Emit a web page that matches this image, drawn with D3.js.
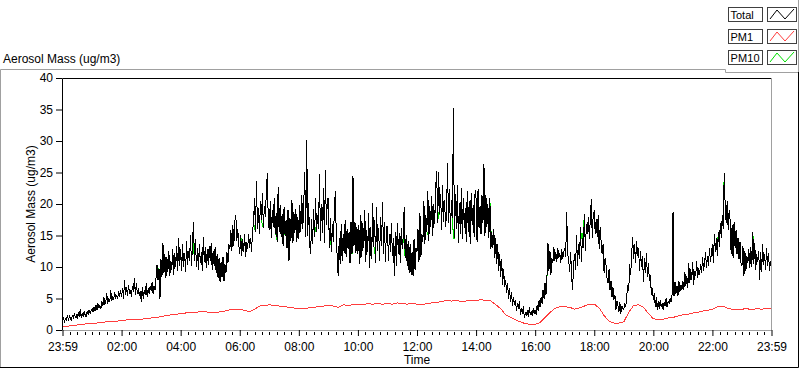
<!DOCTYPE html>
<html>
<head>
<meta charset="utf-8">
<script src="https://cdn.jsdelivr.net/npm/d3@7"></script>
<style>
  html, body { margin: 0; padding: 0; background: #fff; }
  svg { display: block; font-family: "Liberation Sans", Arial, sans-serif; }
</style>
</head>
<body>
<div id="chart"></div>
<script>
// x tick labels, one every 2 hours from 23:59 to 23:59
const tickLabels = ["23:59", "02:00", "04:00", "06:00", "08:00", "10:00", "12:00",
  "14:00", "16:00", "18:00", "20:00", "22:00", "23:59"];
const yTicks = [0, 5, 10, 15, 20, 25, 30, 35, 40];

// Total mass, one sample every 2 min (one row = one hour)
const totalStep = 2;
const total = [
  1.4, 2.0, 1.2, 1.8, 1.6, 2.4, 1.5, 2.2, 1.9, 1.4, 2.4, 1.8, 2.6, 2.0, 2.3, 1.7, 2.8, 2.1, 3.3, 2.0, 2.6, 2.2, 2.9, 2.4, 2.1, 3.0, 2.5, 3.2, 2.6, 3.0,
  3.4, 2.8, 3.6, 3.0, 3.9, 3.2, 4.2, 3.5, 3.9, 3.3, 4.6, 3.8, 5.2, 4.0, 4.6, 5.8, 4.2, 5.0, 4.4, 6.3, 4.6, 5.4, 4.8, 6.0, 5.0, 5.6, 4.9, 6.2, 5.2, 6.4,
  5.2, 6.6, 5.0, 7.9, 5.6, 6.8, 5.4, 7.2, 5.8, 6.4, 5.2, 7.0, 6.0, 8.3, 5.6, 7.4, 5.8, 6.6, 5.4, 6.2, 4.5, 6.8, 5.0, 6.4, 5.6, 7.4, 5.2, 6.6, 5.8, 7.0,
  6.2, 7.6, 5.8, 7.0, 6.4, 8.4, 10.3, 8.0, 9.6, 5.0, 11.2, 8.4, 13.8, 9.0, 12.0, 8.2, 11.6, 9.2, 12.6, 8.6, 11.0, 9.6, 12.8, 8.8, 12.2, 10.0, 13.4, 9.4, 14.6, 10.2,
  12.8, 9.4, 13.6, 10.0, 12.2, 9.2, 14.2, 10.4, 12.6, 11.0, 15.0, 10.2, 13.4, 17.2, 11.0, 14.4, 10.0, 13.0, 9.6, 13.6, 10.6, 12.4, 9.4, 14.8, 10.8, 13.2, 9.8, 12.8, 10.4, 13.4,
  11.0, 13.8, 9.6, 12.6, 10.2, 13.2, 9.0, 12.0, 8.2, 11.4, 7.6, 10.8, 8.4, 11.6, 7.8, 10.4, 9.0, 12.4, 10.6, 13.6, 12.8, 15.8, 12.6, 16.6, 13.4, 17.2, 18.3, 14.2, 16.0, 13.6,
  12.0, 15.0, 11.8, 14.4, 12.4, 15.2, 11.6, 14.0, 12.8, 15.3, 13.0, 14.6, 12.4, 15.8, 17.0, 21.0, 15.6, 23.6, 16.0, 19.4, 15.2, 20.4, 17.4, 21.8, 16.2, 19.6, 18.0, 22.0, 24.9, 17.0,
  15.8, 20.4, 14.6, 19.0, 16.4, 21.0, 15.2, 18.6, 14.0, 22.7, 15.6, 19.8, 14.8, 18.4, 13.4, 19.6, 15.0, 17.4, 13.0, 19.0, 11.0, 17.8, 14.2, 20.6, 13.8, 18.8, 15.4, 19.2, 14.0, 18.0,
  14.4, 19.8, 15.6, 21.4, 16.0, 20.2, 25.0, 14.8, 30.2, 15.0, 20.2, 13.6, 12.0, 17.6, 13.6, 19.2, 14.8, 21.0, 15.6, 18.2, 16.0, 24.8, 14.2, 20.0, 15.4, 22.6, 13.8, 25.4, 16.6, 20.8,
  20.9, 13.0, 17.8, 12.4, 16.8, 14.0, 18.6, 22.0, 15.4, 11.2, 8.5, 14.6, 10.4, 16.8, 11.0, 15.2, 12.2, 17.4, 11.6, 16.0, 12.8, 15.6, 10.6, 17.2, 12.0, 24.4, 13.4, 17.2, 12.2, 16.4,
  12.0, 16.6, 10.4, 18.2, 11.6, 17.0, 13.0, 19.0, 10.8, 15.8, 12.4, 18.6, 9.8, 16.4, 11.2, 20.2, 13.2, 17.4, 10.6, 19.6, 12.6, 16.2, 11.0, 18.0, 13.4, 20.3, 12.0, 17.2, 10.8, 16.4,
  16.4, 11.0, 15.2, 12.4, 17.0, 11.8, 14.6, 8.6, 15.6, 10.2, 17.0, 12.0, 15.4, 10.6, 16.2, 12.8, 14.8, 19.6, 11.4, 15.0, 10.2, 14.2, 9.0, 13.6, 8.8, 12.4, 8.5, 14.4, 9.6, 13.0,
  12.4, 16.0, 10.8, 18.6, 11.6, 15.2, 14.0, 20.4, 13.6, 18.2, 15.6, 22.0, 14.2, 19.6, 16.4, 21.2, 15.0, 20.0, 16.8, 22.8, 25.2, 17.0, 25.0, 18.4, 21.6, 15.8, 23.0, 17.2, 20.6, 16.4,
  18.4, 26.5, 17.0, 22.4, 15.2, 20.6, 17.8, 35.2, 14.6, 21.6, 16.0, 23.0, 13.8, 20.2, 15.2, 22.6, 14.4, 21.0, 16.2, 19.4, 14.0, 22.0, 15.6, 20.4, 13.6, 21.8, 16.6, 19.8, 14.8, 22.2,
  20.8, 14.0, 22.4, 16.2, 19.6, 15.2, 21.4, 17.0, 26.3, 15.0, 21.4, 16.4, 20.0, 14.6, 21.0, 12.8, 15.6, 13.0, 16.0, 11.4, 14.6, 10.4, 13.6, 9.4, 12.0, 8.4, 11.2, 7.2, 9.6, 6.8,
  8.0, 5.8, 7.4, 5.0, 6.6, 4.4, 6.0, 3.8, 5.2, 4.0, 4.8, 3.0, 4.2, 3.4, 4.6, 2.4, 3.4, 2.6, 3.8, 1.9, 2.8, 2.2, 3.2, 2.0, 3.6, 2.4, 3.0, 2.2, 3.4, 2.6,
  3.2, 2.4, 4.0, 3.0, 4.8, 3.6, 5.2, 4.2, 6.4, 5.0, 7.4, 5.6, 8.6, 13.8, 9.4, 12.6, 8.8, 11.4, 10.6, 13.2, 11.0, 12.4, 10.8, 13.0, 11.4, 12.2, 10.6, 12.8, 11.2, 12.4,
  13.0, 11.6, 18.8, 12.0, 11.2, 9.2, 12.4, 8.6, 6.3, 10.4, 12.0, 9.6, 15.0, 10.2, 13.6, 11.2, 16.4, 10.8, 14.6, 13.0, 18.4, 12.6, 16.8, 15.2, 18.0, 14.4, 17.6, 20.8, 14.6, 18.6,
  18.8, 15.2, 17.6, 14.8, 18.2, 12.8, 16.4, 14.0, 12.0, 13.6, 9.0, 11.4, 10.2, 8.2, 7.4, 9.6, 6.4, 7.8, 5.2, 6.8, 4.8, 5.6, 3.2, 4.6, 4.0, 2.8, 4.4, 2.6, 3.8, 3.4,
  3.2, 4.2, 3.6, 5.4, 7.2, 6.2, 10.4, 8.8, 12.0, 14.8, 11.2, 13.6, 10.6, 14.2, 11.8, 13.0, 9.4, 12.6, 10.0, 11.8, 7.6, 11.4, 9.0, 12.2, 8.4, 10.6, 7.8, 8.8, 5.6, 6.6,
  4.8, 5.8, 3.6, 5.2, 3.2, 4.6, 3.4, 4.8, 3.6, 4.2, 3.2, 4.4, 3.8, 5.0, 3.6, 4.6, 4.2, 5.0, 4.4, 5.6, 18.7, 5.4, 7.6, 5.8, 7.0, 5.4, 7.8, 6.0, 7.2, 6.4,
  7.8, 6.4, 9.2, 7.0, 8.6, 6.6, 10.6, 7.4, 9.6, 8.0, 10.8, 7.2, 9.4, 8.6, 11.0, 8.2, 9.8, 8.8, 10.4, 9.0, 11.6, 9.4, 10.6, 12.4, 9.8, 11.8, 10.2, 13.0, 10.8, 12.2,
  13.6, 10.6, 15.2, 12.4, 14.6, 11.8, 15.6, 13.2, 17.0, 14.6, 18.2, 16.0, 24.9, 19.6, 17.0, 20.4, 15.8, 19.0, 17.4, 12.0, 16.6, 11.4, 17.2, 13.0, 15.8, 12.0, 14.6, 11.2, 14.0, 10.6,
  10.2, 13.4, 8.6, 12.6, 9.4, 11.8, 10.6, 12.8, 9.8, 13.2, 10.0, 15.6, 10.4, 13.8, 9.6, 12.0, 10.8, 12.6, 8.0, 12.4, 9.2, 13.6, 10.4, 12.0, 9.6, 13.0, 10.2, 12.2, 9.4, 11.0,
  9.8
];

// PM10 follows Total except at these samples [index, value], where the green shows
const pm10Diffs = [
  [97, 9.8], [133, 13.6], [182, 13.8], [195, 16.2], [203, 16.8], [217, 15.4], [225, 15.4],
  [257, 16.4], [272, 15.8], [295, 14.8], [317, 13.0], [347, 13.6], [371, 15.2],
  [382, 18.6], [397, 14.6], [435, 15.4], [493, 9.6], [527, 14.6], [529, 16.0],
  [665, 13.0], [671, 18.0], [702, 12.4]
];

// PM1, one sample every 10 min (one row = one hour)
const pm1Step = 10;
const pm1 = [
  0.5, 0.6, 0.7, 0.8, 0.9, 1.0,
  1.0, 1.1, 1.2, 1.3, 1.3, 1.4,
  1.5, 1.6, 1.6, 1.7, 1.7, 1.8,
  1.9, 2.0, 2.1, 2.3, 2.4, 2.5,
  2.6, 2.7, 2.8, 2.8, 2.9, 2.9,
  2.8, 2.7, 2.9, 3.0, 3.2, 3.3,
  3.3, 3.1, 2.9, 3.3, 3.8, 3.9,
  4.0, 3.9, 3.8, 3.7, 3.6, 3.5,
  3.4, 3.4, 3.5, 3.6, 3.7, 3.8,
  3.9, 3.8, 3.6, 4.0, 3.9, 4.0,
  4.1, 4.0, 4.2, 4.1, 4.2, 4.1,
  4.2, 4.1, 4.3, 4.2, 4.1, 4.2,
  4.1, 4.0, 4.2, 4.3, 4.4, 4.5,
  4.7, 4.6, 4.7, 4.5, 4.6, 4.7,
  4.7, 4.8, 4.7, 4.6, 4.0, 3.4,
  2.4, 2.0, 1.6, 1.3, 1.0, 0.9,
  0.9, 1.2, 2.0, 2.8, 3.4, 3.7,
  3.7, 3.6, 3.3, 3.5, 3.8, 4.1,
  4.1, 3.5, 2.3, 1.4, 1.1, 1.1,
  1.3, 2.8, 3.9, 4.0, 3.6, 2.6,
  1.8, 1.6, 1.7, 1.9, 2.0, 2.2,
  2.4, 2.5, 2.7, 2.8, 3.0, 3.1,
  3.3, 3.7, 3.8, 3.5, 3.3, 3.2,
  3.3, 3.4, 3.2, 3.4, 3.3, 3.4,
  3.4
];

const legendItems = [
  { name: "Total", color: "#000000" },
  { name: "PM1", color: "#ff3c3c" },
  { name: "PM10", color: "#00e000" }
];

const width = 800, height = 369;
const plot = { left: 62.5, right: 771.5, top: 78, bottom: 330 };

const svg = d3.select("#chart")
  .append("svg")
  .attr("width", width)
  .attr("height", height);

// outer panel, sunken look
const frame = svg.append("g").attr("fill", "none").attr("stroke-width", 1);
frame.append("path").attr("stroke", "#a0a0a0").attr("d", "M0.5,368V69.5H725.5V72.5H798.5");
frame.append("path").attr("stroke", "#a0a0a0").attr("d", "M798.5,0V72");
frame.append("path").attr("stroke", "#000").attr("d", "M0,367.5H798.5V72");

const x = d3.scaleLinear().domain([0, 24]).range([plot.left, plot.right]);
const y = d3.scaleLinear().domain([0, 40]).range([plot.bottom, plot.top]);

// series -> points
const totalPts = total.map((v, i) => [i * totalStep / 60, v]);
const pm10 = total.slice();
pm10Diffs.forEach(([i, v]) => { pm10[i] = v; });
const pm10Pts = pm10.map((v, i) => [i * totalStep / 60, v]);
const pm1Pts = pm1.map((v, i) => [i * pm1Step / 60, v]);

svg.append("clipPath").attr("id", "clip")
  .append("rect")
  .attr("x", plot.left).attr("y", plot.top)
  .attr("width", plot.right - plot.left).attr("height", plot.bottom - plot.top);

const line = d3.line().x(d => x(d[0])).y(d => y(d[1]));

const traces = svg.append("g").attr("clip-path", "url(#clip)");
[[pm10Pts, legendItems[2].color], [pm1Pts, legendItems[1].color], [totalPts, legendItems[0].color]]
  .forEach(([pts, c]) => {
    traces.append("path")
      .attr("d", line(pts))
      .attr("fill", "none")
      .attr("stroke", c)
      .attr("stroke-width", 1)
      .style("shape-rendering", "crispEdges");
  });

// plot frame: black top/left, grey bottom/right
svg.append("path").attr("fill", "none").attr("stroke", "#000")
  .attr("d", `M62.5,330V78.5H772`);
svg.append("path").attr("fill", "none").attr("stroke", "#a0a0a0")
  .attr("d", `M62,330.5H771.5V78`);

// y axis
const yAxis = svg.append("g")
  .attr("transform", "translate(62,0)")
  .call(d3.axisLeft(y).tickValues(yTicks).tickSize(6).tickPadding(3));
yAxis.select(".domain").remove();
yAxis.selectAll("text").attr("font-size", 12).attr("font-family", "Liberation Sans, Arial").attr("fill", "#000");

// x axis, majors every 2 h and minors every 15 min
const xAxis = svg.append("g")
  .attr("transform", `translate(0,${plot.bottom})`)
  .call(d3.axisBottom(x)
    .tickValues(d3.range(0, 25, 2))
    .tickFormat((d, i) => tickLabels[i])
    .tickSize(6)
    .tickPadding(6));
xAxis.select(".domain").remove();
xAxis.selectAll("text").attr("font-size", 12).attr("font-family", "Liberation Sans, Arial").attr("fill", "#000");

const minor = d3.range(0, 24, 0.25).filter(d => d % 2 !== 0);
svg.append("g")
  .selectAll("line")
  .data(minor)
  .enter()
  .append("line")
  .attr("x1", d => Math.round(x(d)) + 0.5)
  .attr("x2", d => Math.round(x(d)) + 0.5)
  .attr("y1", plot.bottom + 2)
  .attr("y2", plot.bottom + 5)
  .attr("stroke", "#000");

// titles
svg.append("text")
  .attr("x", 3).attr("y", 63)
  .attr("font-size", 12)
  .text("Aerosol Mass (ug/m3)");

svg.append("text")
  .attr("transform", `translate(35,${(plot.top + plot.bottom) / 2}) rotate(-90)`)
  .attr("text-anchor", "middle")
  .attr("font-size", 12)
  .text("Aerosol Mass (ug/m3)");

svg.append("text")
  .attr("x", (plot.left + plot.right) / 2).attr("y", 364)
  .attr("text-anchor", "middle")
  .attr("font-size", 12)
  .text("Time");

// legend
const legend = svg.append("g");
legendItems.forEach((d, i) => {
  const top = 7 + i * 21.5;
  const g = legend.append("g").attr("transform", `translate(0,${Math.round(top)})`);
  g.append("rect")
    .attr("x", 728.5).attr("y", 0.5)
    .attr("width", 34).attr("height", 14)
    .attr("fill", "#fff").attr("stroke", "#404040");
  g.append("text")
    .attr("x", 730.5).attr("y", 12)
    .attr("font-size", 11)
    .attr("textLength", d.name === "PM10" ? 29 : null)
    .text(d.name);
  g.append("rect")
    .attr("x", 767.5).attr("y", 0.5)
    .attr("width", 29).attr("height", 14)
    .attr("fill", "#fff").attr("stroke", "#404040");
  g.append("path")
    .attr("d", "M770,12L777,3L785,12L794,2")
    .attr("fill", "none")
    .attr("stroke", d.color);
});
</script>
</body>
</html>
